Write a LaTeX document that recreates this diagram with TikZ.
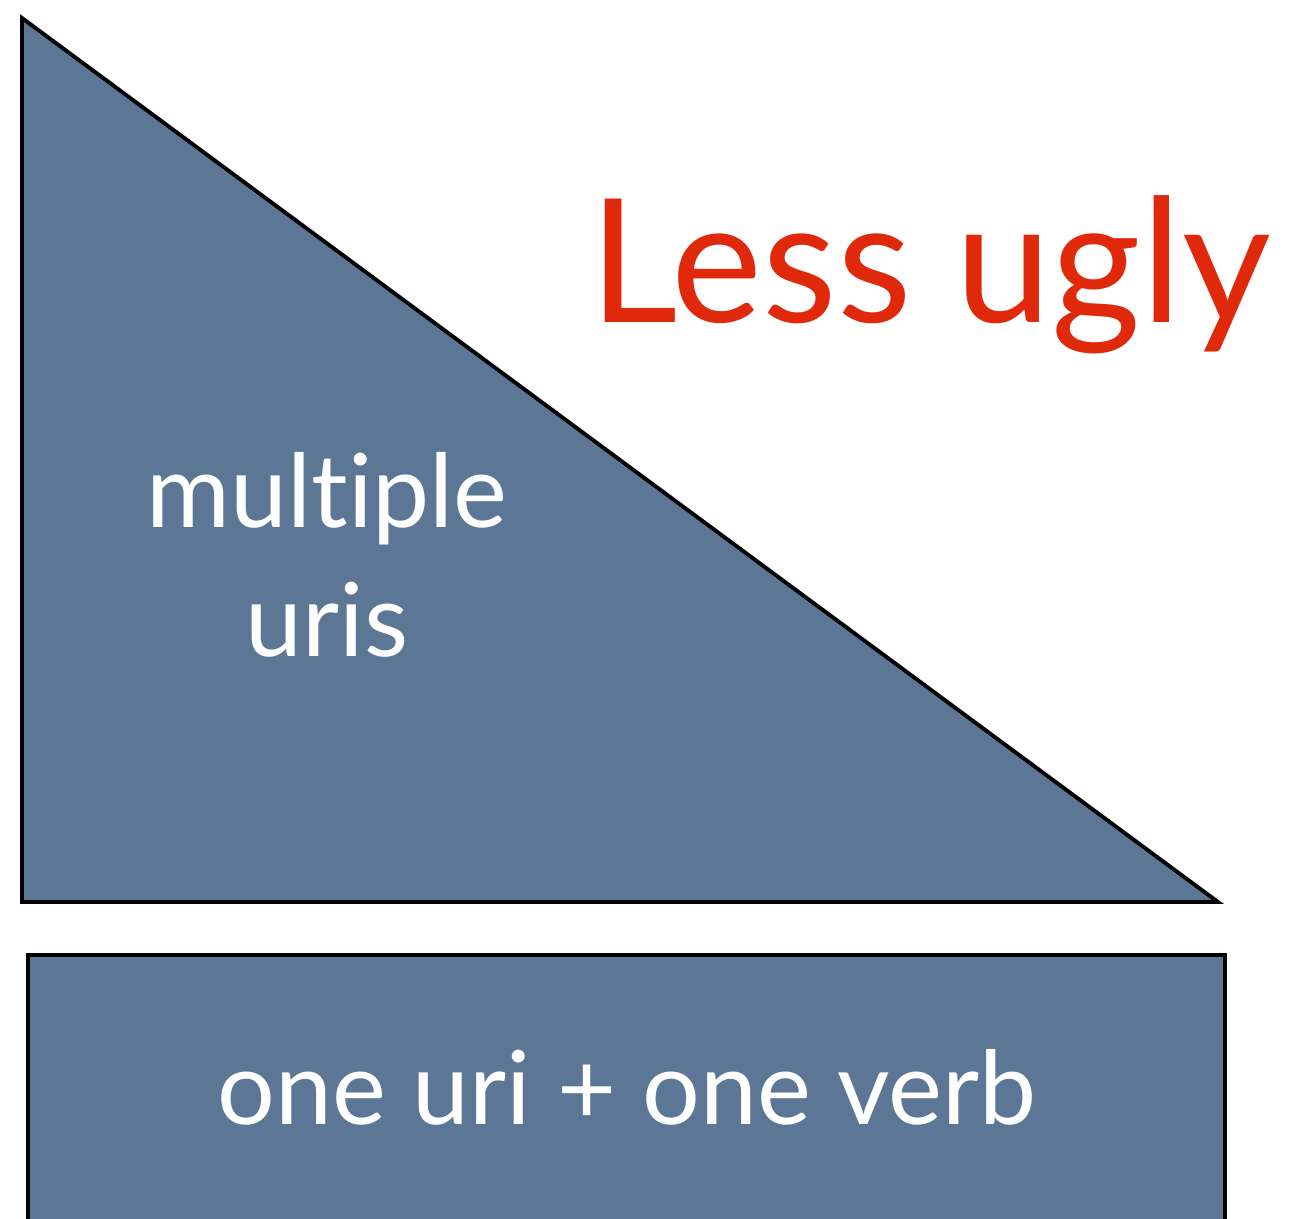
\documentclass[tikz,border=0pt]{standalone}
\usepackage{fontspec}
\setmainfont{Lato}[Ligatures={NoCommon}]
\definecolor{slate}{HTML}{5B7795}
\definecolor{lessred}{HTML}{E0280A}
\begin{document}
\begin{tikzpicture}[x=0.01cm,y=-0.01cm,
  shapebox/.style={fill=slate,draw=black,line width=1.1pt,line join=miter},
  whitetext/.style={text=white,font=\fontsize{29}{36}\selectfont,align=center}]
\useasboundingbox (0,0) rectangle (1291,1218);
\begin{scope}
\clip (0,0) rectangle (1291,1218);
\draw[shapebox] (22,18) -- (22,902) -- (1218,902) -- cycle;
\draw[shapebox] (28,955) rectangle (1225,1240);
\end{scope}
\node[text=lessred,font=\fontsize{49}{56}\selectfont,anchor=base] (title) at (930,322) {Less ugly};
\node[whitetext,anchor=base] (multi) at (327,527) {multiple};
\node[whitetext,anchor=base] (uris) at (327,656) {uris};
\node[whitetext,anchor=base] (one) at (627,1124) {one uri + one verb};
\end{tikzpicture}
\end{document}
